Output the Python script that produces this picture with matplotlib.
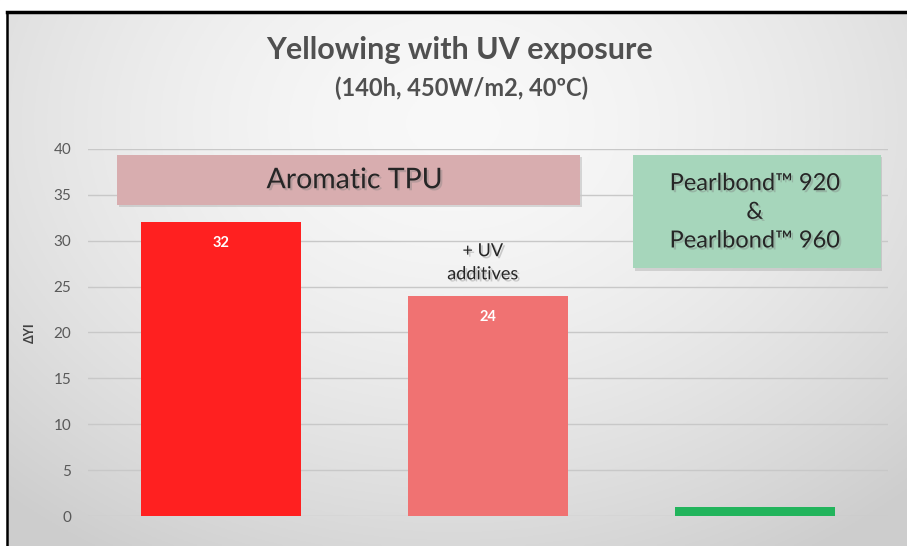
import matplotlib.pyplot as plt
import numpy as np
from matplotlib.patches import Rectangle
from matplotlib.lines import Line2D
import matplotlib.patheffects as pe

plt.rcParams['font.family'] = ['Lato', 'DejaVu Sans']

# data
categories = ['Aromatic TPU', 'Aromatic TPU + UV additives', 'Pearlbond 920 & 960']
delta_yi = [32, 24, 1]
bar_colors = ['#ff2020', '#f07272', '#22b45c']
value_labels = ['32', '24', '']
yticks = [0, 5, 10, 15, 20, 25, 30, 35, 40]

fig = plt.figure(figsize=(9.07, 5.46), dpi=100)

# gradient background (light centre, darker edges)
bg = fig.add_axes([0, 0, 1, 1], zorder=-10)
gx = np.linspace(-1, 1, 400)
gy = np.linspace(-1, 1, 240)
X, Y = np.meshgrid(gx, gy)
r = np.sqrt((X * 0.95) ** 2 + ((Y + 0.55) * 0.75) ** 2)
grad = 0.975 - 0.17 * np.clip(r, 0, 1.4) ** 1.6 / 1.4 ** 1.6
grad = np.clip(grad, 0.78, 0.98)
bg.imshow(np.dstack([grad, grad, grad]), extent=[0, 1, 0, 1], aspect='auto', origin='upper')
# white strip above the frame
bg.add_patch(Rectangle((0, 1 - 11 / 546), 1, 11 / 546, color='white', transform=bg.transAxes))
bg.add_patch(Rectangle((0, 0), 6 / 907, 1, color='white', transform=bg.transAxes))
bg.add_line(Line2D([6.5 / 907, 1], [1 - 12 / 546] * 2, color='black', lw=2.5, transform=bg.transAxes))
bg.add_line(Line2D([7 / 907] * 2, [0, 1 - 12 / 546], color='black', lw=1.8, transform=bg.transAxes))
bg.set_xlim(0, 1)
bg.set_ylim(0, 1)
bg.axis('off')

ax = fig.add_axes([88 / 907, 30 / 546, 800 / 907, 367 / 546])
ax.patch.set_alpha(0)
x = np.arange(len(delta_yi))
bars = ax.bar(x, delta_yi, width=0.6, color=bar_colors, zorder=3)
ax.set_xlim(-0.5, 2.5)
ax.set_ylim(0, 40)
ax.set_yticks(yticks)
ax.set_xticks([])
ax.grid(axis='y', color='#c8c8c8', lw=1, zorder=0)
for s in ax.spines.values():
    s.set_visible(False)
ax.tick_params(axis='y', length=0, pad=12, labelsize=11, labelcolor='#595959')
ax.set_ylabel('ΔYI', fontsize=9, fontweight='bold', color='#404040', labelpad=13)

for b, lab in zip(bars, value_labels):
    if lab:
        ax.text(b.get_x() + b.get_width() / 2, b.get_height() - 1.5, lab,
                ha='center', va='top', color='white', fontsize=10.5, fontweight='bold', zorder=4)

shadow = [pe.withSimplePatchShadow(offset=(1.5, -1.5), shadow_rgbFace='#7a7a7a', alpha=0.35)]

# annotation boxes
def shadow_box(x0, y0, w, h, color):
    ax.add_patch(Rectangle((x0 + 0.006, y0 - 0.25), w, h, color='#9a9a9a', alpha=0.35, zorder=1, lw=0))
    ax.add_patch(Rectangle((x0, y0), w, h, color=color, zorder=2, lw=0))

shadow_box(-0.39, 33.9, 1.735, 5.5, '#d8adaf')
ax.text(0.5, 36.6, 'Aromatic TPU', ha='center', va='center', fontsize=20.5, color='#262626',
        zorder=5, path_effects=shadow)

shadow_box(1.545, 27.0, 0.927, 12.35, '#a6d6bb')
ax.text(2.0, 33.1, 'Pearlbond™ 920\n&\nPearlbond™ 960', ha='center', va='center',
        fontsize=17, color='#262626', linespacing=1.45, zorder=5, path_effects=shadow)

ax.text(0.98, 27.6, '+ UV\nadditives', ha='center', va='center', fontsize=13,
        color='#262626', linespacing=1.55, zorder=5, path_effects=shadow)

fig.text(460 / 907, 1 - 50 / 546, 'Yellowing with UV exposure', ha='center', va='center',
         fontsize=22, color='#505050', fontweight='bold')
fig.text(462 / 907, 1 - 88 / 546, '(140h, 450W/m2, 40ºC)', ha='center', va='center',
         fontsize=17, color='#505050', fontweight='bold')

fig.savefig('out.png', dpi=100)
